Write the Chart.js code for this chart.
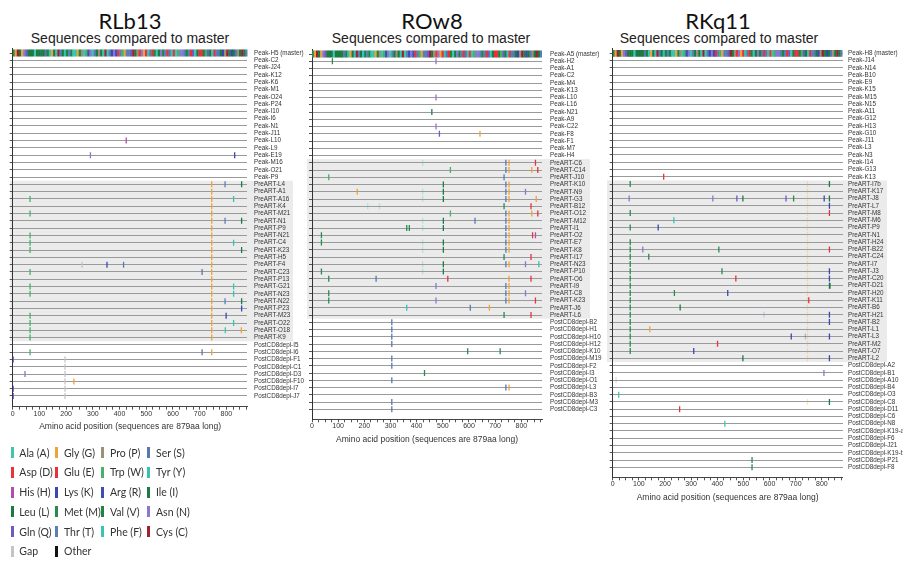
<!DOCTYPE html>
<html>
<head>
<meta charset="utf-8">
<script src="https://cdn.jsdelivr.net/npm/chart.js@4.4.1/dist/chart.umd.min.js"></script>
<style>
body { margin: 0; background: #fff; width: 905px; height: 562px; position: relative; overflow: hidden; font-family: 'Liberation Sans', Arial, sans-serif; }
canvas { position: absolute; left: 0; top: 0; }
.t { position: absolute; transform: translate(-50%, -50%); white-space: nowrap; color: #111; }
.t1 { font-family: Lato, sans-serif; font-size: 22px; }
.t2 { font-size: 14px; color: #222; }
.sw { position: absolute; width: 3px; height: 11px; }
.lt { position: absolute; font-family: Lato, sans-serif; font-size: 10.5px; color: #333; transform: translateY(-50%); white-space: nowrap; }
</style>
</head>
<body>
<div class="t t1" style="left:130px;top:20px">RLb13</div>
<div class="t t2" style="left:130px;top:38px">Sequences compared to master</div>
<div class="t t1" style="left:432px;top:20px">ROw8</div>
<div class="t t2" style="left:431px;top:38px">Sequences compared to master</div>
<div class="t t1" style="left:718px;top:20px">RKq11</div>
<div class="t t2" style="left:719px;top:38px">Sequences compared to master</div>
<canvas id="c1" width="905" height="562"></canvas>
<canvas id="c2" width="905" height="562"></canvas>
<canvas id="c3" width="905" height="562"></canvas>
<div id="legend"></div>
<script>
// Amino acid colour key
const aaCodes = ['A', 'G', 'P', 'S', 'D', 'E', 'W', 'Y', 'H', 'K', 'R', 'I', 'L', 'M', 'V', 'N', 'Q', 'T', 'F', 'C', '-', 'X'];
const aaNames = ['Ala (A)', 'Gly (G)', 'Pro (P)', 'Ser (S)', 'Asp (D)', 'Glu (E)', 'Trp (W)', 'Tyr (Y)',
    'His (H)', 'Lys (K)', 'Arg (R)', 'Ile (I)', 'Leu (L)', 'Met (M)', 'Val (V)', 'Asn (N)',
    'Gln (Q)', 'Thr (T)', 'Phe (F)', 'Cys (C)', 'Gap', 'Other'];
const aaColors = ['#3ec6b0', '#eea23a', '#9c9078', '#5878b0', '#e8323c', '#e83038', '#44b26a', '#35c3b2',
    '#b44cae', '#3848b0', '#3e4cb4', '#1c7a44', '#1a7a42', '#2a8a50', '#1e8446', '#8878d0',
    '#6a5cc0', '#5880b8', '#38c4b0', '#a02030', '#c4c4c4', '#111111'];

// x axis
const positionTicks = [0, 100, 200, 300, 400, 500, 600, 700, 800];
const seqLength = 879;

// master sequence, one letter per 8 residues
const segLen = 8;
const masterSeq = 'MGCLGNQLLI AILLLSVYGI YCTLYVTVFY GVPAWRNATI PLFCATKNRD TWGTTQCLPD NGDYSEVALN VTESFDAWNN TVTEQAIEDV WQLFETSIKP CVKLSPLCIT'.replace(/ /g, '');

// RLb13
const rlb13Rows = ['Peak-H5 (master)', 'Peak-C2', 'Peak-J24', 'Peak-K12', 'Peak-K6', 'Peak-M1', 'Peak-O24', 'Peak-P24',
    'Peak-I10', 'Peak-I6', 'Peak-N1', 'Peak-J11', 'Peak-L10', 'Peak-L9', 'Peak-E19', 'Peak-M16', 'Peak-O21', 'Peak-P9',
    'PreART-L4', 'PreART-A1', 'PreART-A16', 'PreART-K4', 'PreART-M21', 'PreART-N1', 'PreART-P9', 'PreART-N21',
    'PreART-C4', 'PreART-K23', 'PreART-H5', 'PreART-F4', 'PreART-C23', 'PreART-P13', 'PreART-G21', 'PreART-N23',
    'PreART-N22', 'PreART-P23', 'PreART-M23', 'PreART-O22', 'PreART-O18', 'PreART-K9',
    'PostCD8depl-I5', 'PostCD8depl-I6', 'PostCD8depl-F1', 'PostCD8depl-C1', 'PostCD8depl-D3', 'PostCD8depl-F10',
    'PostCD8depl-I7', 'PostCD8depl-J7'];
const rlb13Marks = [
    ['Peak-L10', 425, 'H'], ['Peak-E19', 291, 'N'], ['Peak-E19', 831, 'K'],
    ['PreART-L4', 745, 'G'], ['PreART-L4', 795, 'T'], ['PreART-L4', 857, 'L'],
    ['PreART-A1', 745, 'G'],
    ['PreART-A16', 65, 'W'], ['PreART-A16', 745, 'G'], ['PreART-A16', 827, 'Y'],
    ['PreART-K4', 745, 'G'],
    ['PreART-M21', 65, 'W'], ['PreART-M21', 745, 'G'],
    ['PreART-N1', 745, 'G'], ['PreART-N1', 795, 'T'], ['PreART-N1', 857, 'L'],
    ['PreART-P9', 745, 'G'],
    ['PreART-N21', 65, 'W'], ['PreART-N21', 745, 'G'],
    ['PreART-C4', 65, 'W'], ['PreART-C4', 745, 'G'], ['PreART-C4', 827, 'Y'],
    ['PreART-K23', 65, 'W'], ['PreART-K23', 745, 'G'], ['PreART-K23', 857, 'L'],
    ['PreART-H5', 745, 'G'],
    ['PreART-F4', 260, '-'], ['PreART-F4', 353, 'K'], ['PreART-F4', 415, 'S'], ['PreART-F4', 745, 'G'],
    ['PreART-C23', 65, 'W'], ['PreART-C23', 709, 'S'], ['PreART-C23', 745, 'G'],
    ['PreART-P13', 745, 'G'],
    ['PreART-G21', 65, 'W'], ['PreART-G21', 745, 'G'], ['PreART-G21', 827, 'Y'],
    ['PreART-N23', 65, 'W'], ['PreART-N23', 745, 'G'], ['PreART-N23', 827, 'Y'],
    ['PreART-N22', 745, 'G'], ['PreART-N22', 795, 'T'], ['PreART-N22', 857, 'L'],
    ['PreART-P23', 745, 'G'], ['PreART-P23', 857, 'K'],
    ['PreART-M23', 65, 'W'], ['PreART-M23', 745, 'G'], ['PreART-M23', 799, 'K'],
    ['PreART-O22', 65, 'W'], ['PreART-O22', 745, 'G'], ['PreART-O22', 827, 'Y'],
    ['PreART-O18', 65, 'W'], ['PreART-O18', 745, 'G'], ['PreART-O18', 796, 'A'], ['PreART-O18', 856, 'G'],
    ['PreART-K9', 65, 'W'], ['PreART-K9', 745, 'G'],
    ['PostCD8depl-I6', 65, 'W'], ['PostCD8depl-I6', 709, 'S'], ['PostCD8depl-I6', 745, 'G'],
    ['PostCD8depl-F1', 2, 'Q'], ['PostCD8depl-F1', 196, '-'],
    ['PostCD8depl-C1', 196, '-'],
    ['PostCD8depl-D3', 46, 'N'], ['PostCD8depl-D3', 196, '-'],
    ['PostCD8depl-F10', 196, '-'], ['PostCD8depl-F10', 229, 'G'],
    ['PostCD8depl-I7', 2, 'Q'], ['PostCD8depl-I7', 196, '-'],
    ['PostCD8depl-J7', 2, 'Q'], ['PostCD8depl-J7', 196, '-']
];
const rlb13Faint = [];

// ROw8
const row8Rows = ['Peak-A5 (master)', 'Peak-H2', 'Peak-A1', 'Peak-C2', 'Peak-M4', 'Peak-K13', 'Peak-L10', 'Peak-L16',
    'Peak-N21', 'Peak-A9', 'Peak-C22', 'Peak-F8', 'Peak-F1', 'Peak-M7', 'Peak-H4',
    'PreART-C6', 'PreART-C14', 'PreART-J10', 'PreART-K10', 'PreART-N9', 'PreART-G3', 'PreART-B12', 'PreART-O12',
    'PreART-M12', 'PreART-I1', 'PreART-O2', 'PreART-E7', 'PreART-K8', 'PreART-I17', 'PreART-N23', 'PreART-P10',
    'PreART-O6', 'PreART-I9', 'PreART-C8', 'PreART-K23', 'PreART-J6', 'PreART-L6',
    'PostCD8depl-B2', 'PostCD8depl-H1', 'PostCD8depl-H10', 'PostCD8depl-H12', 'PostCD8depl-K10', 'PostCD8depl-M19',
    'PostCD8depl-F2', 'PostCD8depl-I3', 'PostCD8depl-O1', 'PostCD8depl-L3', 'PostCD8depl-B3', 'PostCD8depl-M3',
    'PostCD8depl-C3'];
const row8Marks = [
    ['Peak-H2', 78, 'M'], ['Peak-H2', 474, 'N'], ['Peak-L10', 474, 'N'], ['Peak-N21', 458, 'V'],
    ['Peak-C22', 474, 'N'], ['Peak-F8', 487, 'Q'], ['Peak-F8', 642, 'G'],
    ['PreART-C6', 741, 'S'], ['PreART-C6', 753, 'G'], ['PreART-C6', 854, 'D'],
    ['PreART-C14', 529, 'W'], ['PreART-C14', 741, 'S'], ['PreART-C14', 753, 'G'], ['PreART-C14', 840, 'G'], ['PreART-C14', 863, 'E'],
    ['PreART-J10', 64, 'W'], ['PreART-J10', 734, 'S'],
    ['PreART-K10', 502, 'I'], ['PreART-K10', 741, 'S'], ['PreART-K10', 753, 'G'],
    ['PreART-N9', 173, 'G'], ['PreART-N9', 502, 'I'], ['PreART-N9', 741, 'S'], ['PreART-N9', 753, 'G'], ['PreART-N9', 816, 'N'],
    ['PreART-G3', 502, 'I'], ['PreART-G3', 741, 'S'], ['PreART-G3', 753, 'G'], ['PreART-G3', 857, 'G'],
    ['PreART-B12', 734, 'M'], ['PreART-B12', 837, 'D'],
    ['PreART-O12', 529, 'W'], ['PreART-O12', 741, 'S'], ['PreART-O12', 753, 'G'], ['PreART-O12', 840, 'G'], ['PreART-O12', 863, 'E'],
    ['PreART-M12', 502, 'I'], ['PreART-M12', 623, 'S'], ['PreART-M12', 741, 'S'], ['PreART-M12', 753, 'G'],
    ['PreART-I1', 362, 'M'], ['PreART-I1', 372, 'M'], ['PreART-I1', 502, 'I'], ['PreART-I1', 741, 'S'], ['PreART-I1', 753, 'G'],
    ['PreART-O2', 36, 'M'], ['PreART-O2', 741, 'S'], ['PreART-O2', 753, 'G'], ['PreART-O2', 843, 'D'], ['PreART-O2', 854, 'H'],
    ['PreART-E7', 36, 'M'], ['PreART-E7', 502, 'I'], ['PreART-E7', 741, 'S'], ['PreART-E7', 753, 'G'],
    ['PreART-K8', 502, 'I'], ['PreART-K8', 741, 'S'], ['PreART-K8', 753, 'G'],
    ['PreART-I17', 734, 'M'], ['PreART-I17', 837, 'D'],
    ['PreART-N23', 502, 'I'], ['PreART-N23', 741, 'S'], ['PreART-N23', 753, 'G'], ['PreART-N23', 816, 'N'], ['PreART-N23', 867, 'Y'],
    ['PreART-P10', 36, 'M'], ['PreART-P10', 502, 'I'],
    ['PreART-O6', 64, 'M'], ['PreART-O6', 245, 'S'], ['PreART-O6', 519, 'D'], ['PreART-O6', 753, 'G'], ['PreART-O6', 837, 'D'],
    ['PreART-I9', 474, 'N'], ['PreART-I9', 741, 'S'], ['PreART-I9', 753, 'G'],
    ['PreART-C8', 64, 'M'], ['PreART-C8', 741, 'S'], ['PreART-C8', 753, 'G'], ['PreART-C8', 816, 'N'],
    ['PreART-K23', 64, 'M'], ['PreART-K23', 474, 'N'], ['PreART-K23', 741, 'S'], ['PreART-K23', 753, 'G'], ['PreART-K23', 854, 'D'],
    ['PreART-J6', 362, 'Y'], ['PreART-J6', 605, 'S'], ['PreART-J6', 678, 'G'],
    ['PreART-L6', 734, 'M'], ['PreART-L6', 837, 'D'],
    ['PostCD8depl-B2', 305, 'S'], ['PostCD8depl-H1', 305, 'S'], ['PostCD8depl-H10', 305, 'S'], ['PostCD8depl-H12', 305, 'S'],
    ['PostCD8depl-K10', 595, 'M'], ['PostCD8depl-K10', 719, 'M'],
    ['PostCD8depl-M19', 305, 'S'], ['PostCD8depl-F2', 305, 'S'], ['PostCD8depl-I3', 430, 'M'],
    ['PostCD8depl-O1', 305, 'S'], ['PostCD8depl-L3', 741, 'S'], ['PostCD8depl-L3', 753, 'G'],
    ['PostCD8depl-M3', 305, 'S'], ['PostCD8depl-C3', 305, 'S']
];
const row8Faint = [
    ['PreART-C6', 423, 'Y'], ['PreART-N9', 423, 'Y'], ['PreART-G3', 423, 'Y'], ['PreART-M12', 423, 'Y'],
    ['PreART-I1', 423, 'Y'], ['PreART-E7', 423, 'Y'], ['PreART-K8', 423, 'Y'], ['PreART-N23', 423, 'Y'],
    ['PreART-P10', 423, 'Y'], ['PreART-B12', 213, 'A'], ['PreART-B12', 258, 'A']
];

// RKq11
const rkq11Rows = ['Peak-H8 (master)', 'Peak-J14', 'Peak-N14', 'Peak-B10', 'Peak-E9', 'Peak-K15', 'Peak-M15', 'Peak-N15',
    'Peak-A11', 'Peak-G12', 'Peak-H13', 'Peak-G10', 'Peak-J11', 'Peak-L3', 'Peak-N3', 'Peak-I14', 'Peak-G13', 'Peak-K13',
    'PreART-I7b', 'PreART-K17', 'PreART-J8', 'PreART-L7', 'PreART-M8', 'PreART-M6', 'PreART-P9', 'PreART-N1',
    'PreART-H24', 'PreART-B22', 'PreART-C24', 'PreART-I7', 'PreART-J3', 'PreART-C20', 'PreART-D21', 'PreART-H20',
    'PreART-K11', 'PreART-B6', 'PreART-H21', 'PreART-B2', 'PreART-L1', 'PreART-L3', 'PreART-M2', 'PreART-O7', 'PreART-L2',
    'PostCD8depl-A2', 'PostCD8depl-B1', 'PostCD8depl-A10', 'PostCD8depl-B4', 'PostCD8depl-O3', 'PostCD8depl-C8',
    'PostCD8depl-D11', 'PostCD8depl-C6', 'PostCD8depl-N8', 'PostCD8depl-K19-a', 'PostCD8depl-F6', 'PostCD8depl-J21',
    'PostCD8depl-K19-b', 'PostCD8depl-P21', 'PostCD8depl-F8'];
const rkq11Marks = [
    ['Peak-K13', 195, 'D'],
    ['PreART-I7b', 67, 'M'], ['PreART-I7b', 829, 'I'],
    ['PreART-J8', 63, 'N'], ['PreART-J8', 383, 'N'], ['PreART-J8', 475, 'Q'], ['PreART-J8', 498, 'I'],
    ['PreART-J8', 663, 'Q'], ['PreART-J8', 692, 'M'], ['PreART-J8', 809, 'K'], ['PreART-J8', 829, 'I'],
    ['PreART-L7', 829, 'K'],
    ['PreART-M8', 67, 'M'], ['PreART-M8', 829, 'D'],
    ['PreART-M6', 234, 'Y'],
    ['PreART-P9', 67, 'M'], ['PreART-P9', 174, 'K'],
    ['PreART-H24', 67, 'M'],
    ['PreART-B22', 67, 'M'], ['PreART-B22', 115, 'N'], ['PreART-B22', 406, 'M'], ['PreART-B22', 829, 'D'],
    ['PreART-C24', 67, 'M'], ['PreART-C24', 138, 'M'],
    ['PreART-I7', 67, 'M'],
    ['PreART-J3', 67, 'M'], ['PreART-J3', 418, 'M'], ['PreART-J3', 829, 'K'],
    ['PreART-C20', 67, 'M'], ['PreART-C20', 471, 'E'], ['PreART-C20', 829, 'K'],
    ['PreART-D21', 67, 'M'], ['PreART-D21', 829, 'I'], ['PreART-D21', 831, 'I'],
    ['PreART-H20', 67, 'M'], ['PreART-H20', 236, 'M'], ['PreART-H20', 440, 'K'],
    ['PreART-K11', 67, 'M'], ['PreART-K11', 750, 'E'],
    ['PreART-B6', 67, 'M'], ['PreART-B6', 258, 'I'],
    ['PreART-H21', 67, 'M'], ['PreART-H21', 829, 'K'],
    ['PreART-B2', 67, 'M'], ['PreART-B2', 829, 'K'],
    ['PreART-L1', 67, 'M'], ['PreART-L1', 142, 'G'],
    ['PreART-L3', 67, 'M'], ['PreART-L3', 683, 'K'], ['PreART-L3', 829, 'K'],
    ['PreART-M2', 67, 'M'], ['PreART-M2', 401, 'D'],
    ['PreART-O7', 67, 'M'], ['PreART-O7', 310, 'K'],
    ['PreART-L2', 498, 'I'], ['PreART-L2', 829, 'K'],
    ['PostCD8depl-B1', 808, 'N'], ['PostCD8depl-O3', 23, 'A'], ['PostCD8depl-C8', 829, 'I'],
    ['PostCD8depl-D11', 256, 'D'], ['PostCD8depl-N8', 429, 'A'],
    ['PostCD8depl-P21', 533, 'M'], ['PostCD8depl-F8', 533, 'M']
];
const rkq11Faint = [
    ['PreART-I7b', 745, 'G'], ['PreART-K17', 745, 'G'], ['PreART-J8', 745, 'G'], ['PreART-L7', 745, 'G'],
    ['PreART-M8', 745, 'G'], ['PreART-M6', 745, 'G'], ['PreART-P9', 745, 'G'], ['PreART-N1', 745, 'G'],
    ['PreART-H24', 745, 'G'], ['PreART-B22', 745, 'G'], ['PreART-C24', 745, 'G'], ['PreART-I7', 745, 'G'],
    ['PreART-J3', 745, 'G'], ['PreART-C20', 745, 'G'], ['PreART-D21', 745, 'G'], ['PreART-H20', 745, 'G'],
    ['PreART-K11', 745, 'G'], ['PreART-B6', 745, 'G'], ['PreART-H21', 745, 'G'], ['PreART-B2', 745, 'G'],
    ['PreART-L1', 745, 'G'], ['PreART-L3', 745, 'G'], ['PreART-M2', 745, 'G'], ['PreART-O7', 745, 'G'],
    ['PreART-L2', 745, 'G'], ['PostCD8depl-C8', 745, 'G'],
    ['PreART-H21', 579, 'N'], ['PreART-L3', 737, 'K'], ['PostCD8depl-A10', 13, 'P']
];

function colorOf(code) {
    return aaColors[aaCodes.indexOf(code)];
}

function fade(hex, a) {
    const n = parseInt(hex.slice(1), 16);
    return `rgba(${(n >> 16) & 255}, ${(n >> 8) & 255}, ${n & 255}, ${a})`;
}

// grey band behind the PreART rows
const shadePlugin = {
    id: 'shade',
    beforeDraw(chart, args, opts) {
        const { ctx, chartArea, scales } = chart;
        const idx = opts.rows.map((r, i) => r.startsWith('PreART') ? i : -1).filter(i => i >= 0);
        const y0 = scales.y.getPixelForValue(idx[0] - 0.5);
        const y1 = scales.y.getPixelForValue(idx[idx.length - 1] + 0.5);
        const x0 = chartArea.left - opts.padLeft;
        ctx.save();
        ctx.fillStyle = '#ebebeb';
        ctx.fillRect(x0, y0, chartArea.right + opts.padRight - x0, y1 - y0);
        ctx.restore();
    }
};

const minorTicks = [];
for (let v = 0; v <= seqLength; v += 25) minorTicks.push(v);

function buildPanel(p) {
    const n = p.rows.length;
    const gap = (p.lastRow - p.firstRow) / (n - 1);
    const yMin = -(p.firstRow - p.top) / gap;
    const yMax = n - 1 + (p.bottom - p.lastRow) / gap;
    const rowTicks = axis => { axis.ticks = p.rows.map((r, i) => ({ value: i })); };
    const toPts = list => list.map(m => ({ x: m[1], y: p.rows.indexOf(m[0]) }));
    const seq = masterSeq.split('');
    const segPx = (p.right - p.left) / seqLength * segLen + 0.4;

    const ctx = document.getElementById(p.id).getContext('2d');
    return new Chart(ctx, {
        type: 'scatter',
        data: {
            datasets: [{
                data: toPts(p.faint),
                pointStyle: 'line', pointRotation: 90, pointRadius: 3, pointBorderWidth: 1.3,
                pointBorderColor: p.faint.map(m => fade(colorOf(m[2]), 0.3))
            }, {
                data: toPts(p.marks),
                pointStyle: 'line', pointRotation: 90, pointRadius: 3, pointBorderWidth: 1.3,
                pointBorderColor: p.marks.map(m => colorOf(m[2]))
            }, {
                data: seq.map((c, i) => ({ x: i * segLen + segLen / 2, y: 0 })),
                pointStyle: 'line', pointRotation: 90, pointRadius: 3.4, pointBorderWidth: segPx,
                pointBorderColor: seq.map(colorOf)
            }]
        },
        options: {
            responsive: false,
            devicePixelRatio: 1,
            animation: false,
            events: [],
            layout: { padding: { left: p.left - 6, right: 905 - p.right - 60, top: p.top, bottom: 562 - p.bottom - 26 } },
            plugins: {
                legend: { display: false },
                tooltip: { enabled: false },
                shade: { rows: p.rows, padLeft: p.shadeL, padRight: p.shadeR }
            },
            scales: {
                x: {
                    type: 'linear', min: 0, max: seqLength,
                    afterBuildTicks: a => { a.ticks = minorTicks.map(v => ({ value: v })); },
                    afterFit: a => { a.height = 26; },
                    grid: { drawOnChartArea: false, drawTicks: true, tickLength: 3, color: '#555' },
                    border: { display: true, color: '#444' },
                    ticks: {
                        autoSkip: false, maxRotation: 0, padding: 0, color: '#333',
                        font: { family: 'Liberation Sans', size: 7 },
                        callback: v => positionTicks.includes(v) ? String(v) : ''
                    },
                    title: {
                        display: true, text: 'Amino acid position (sequences are 879aa long)', color: '#333',
                        font: { family: 'Liberation Sans', size: 8.5 }, padding: { top: 0, bottom: 1 }
                    }
                },
                y: {
                    type: 'linear', position: 'right', reverse: true, min: yMin, max: yMax,
                    afterBuildTicks: rowTicks,
                    afterFit: a => { a.width = 60; },
                    grid: { drawOnChartArea: true, drawTicks: false, color: '#9a9a9a', lineWidth: 1 },
                    border: { display: false },
                    ticks: {
                        autoSkip: false, padding: p.labelPad, color: '#333',
                        font: { family: 'Liberation Sans', size: 6.3 },
                        callback: v => p.rows[v]
                    }
                },
                yl: {
                    type: 'linear', position: 'left', reverse: true, min: yMin, max: yMax,
                    afterBuildTicks: rowTicks,
                    afterFit: a => { a.width = 6; },
                    grid: { drawOnChartArea: false, drawTicks: true, tickLength: 3, color: '#555' },
                    border: { display: true, color: '#333' },
                    ticks: { display: false }
                }
            }
        },
        plugins: [shadePlugin]
    });
}

buildPanel({ id: 'c1', rows: rlb13Rows, marks: rlb13Marks, faint: rlb13Faint,
    left: 12.7, right: 247.5, top: 48, bottom: 406.7, firstRow: 53, lastRow: 396, labelPad: 6.5, shadeL: 2.7, shadeR: 45.5 });
buildPanel({ id: 'c2', rows: row8Rows, marks: row8Marks, faint: row8Faint,
    left: 312, right: 542, top: 49, bottom: 419.3, firstRow: 54, lastRow: 409.3, labelPad: 8, shadeL: 5, shadeR: 48 });
buildPanel({ id: 'c3', rows: rkq11Rows, marks: rkq11Marks, faint: rkq11Faint,
    left: 612.7, right: 842.5, top: 48.3, bottom: 477.3, firstRow: 53.3, lastRow: 467.3, labelPad: 5.5, shadeL: 5.7, shadeR: 44.5 });

// colour key, four per row
const legend = document.getElementById('legend');
const swX = [12.7, 56.7, 102.7, 148.3];
const txX = [19.3, 64, 110, 156];
aaNames.forEach((name, i) => {
    const col = i % 4, row = Math.floor(i / 4);
    const y = 452.7 + row * 19.7;
    const sw = document.createElement('div');
    sw.className = 'sw';
    sw.style.left = (swX[col] - 1.5) + 'px';
    sw.style.top = (y - 5.5) + 'px';
    sw.style.background = aaColors[i];
    legend.appendChild(sw);
    const tx = document.createElement('div');
    tx.className = 'lt';
    tx.style.left = txX[col] + 'px';
    tx.style.top = y + 'px';
    tx.textContent = name;
    legend.appendChild(tx);
});
</script>
</body>
</html>
